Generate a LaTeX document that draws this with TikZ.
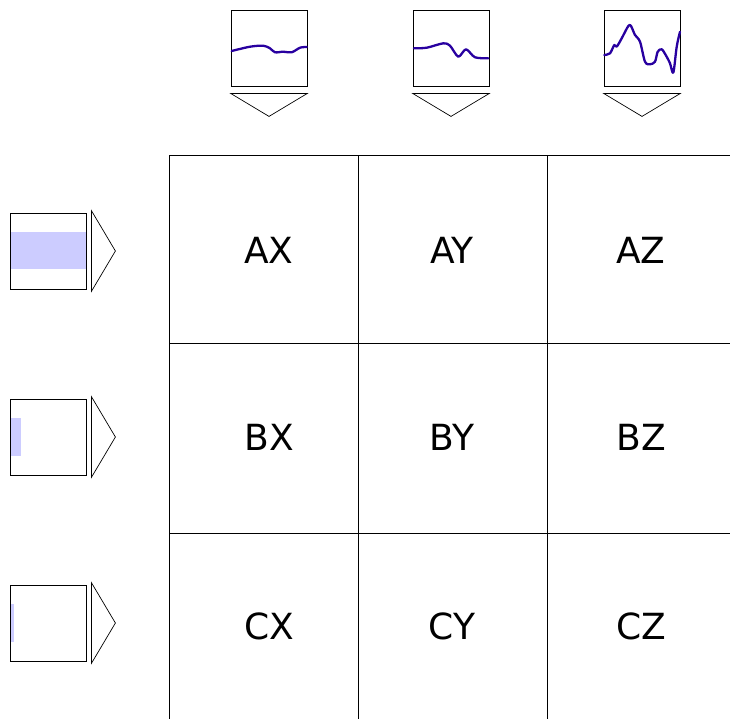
\documentclass[tikz,border=0pt]{standalone}
\usepackage{fontspec}
\setmainfont{DejaVu Sans}
\usetikzlibrary{positioning}

\begin{document}
\begin{tikzpicture}[x=1pt, y=-1pt, font=\fontsize{36}{40}\selectfont]

\definecolor{CurveLine}{RGB}{40,0,160}
\definecolor{BarFill}{RGB}{204,204,255}

\tikzset{
    plotbox/.style={draw, line width=0.8pt, minimum size=76pt, inner sep=0pt},
    arrowhead/.style={draw, line width=0.7pt},
    curve/.style={CurveLine, line width=2.3pt, line join=round, line cap=round},
    gridline/.style={line width=1pt},
}

\useasboundingbox (0,0) rectangle (730,718);

% ── Grade 3x3 (cortada pela borda) ──────────────────────────
\foreach \gx in {169,358,547}
    \draw[gridline] (\gx,155) -- (\gx,730);
\foreach \gy in {155,343,533}
    \draw[gridline] (169,\gy) -- (740,\gy);

% ── Caixas das curvas (topo) ────────────────────────────────
\node[plotbox] (plotX) at (269,48) {};
\node[plotbox] (plotY) at (451,48) {};
\node[plotbox] (plotZ) at (642,48) {};

\foreach \p in {plotX,plotY,plotZ}
    \draw[arrowhead] ([yshift=-7pt]\p.south west) -- ([yshift=-7pt]\p.south east)
        -- ([yshift=-30pt]\p.south) -- cycle;

\draw[curve] plot[smooth, tension=0.5] coordinates {
    (231.7,51) (250,46.7) (263.3,45.7) (270,48.3) (275,52.3)
    (283.3,51.7) (291.7,52.3) (300,47.7) (306.7,47)};
\draw[curve] plot[smooth, tension=0.5] coordinates {
    (414,48.3) (426.7,47.7) (443.3,43.3) (450,45.7) (458.3,56.7)
    (466,49.3) (475,57.3) (488.3,58.3)};
\draw[curve] plot[smooth, tension=0.5] coordinates {
    (604.3,55) (610,53.3) (614.3,45) (616.7,46.7) (621.7,38.3)
    (628.3,26) (631,26) (635,35) (640,41.7) (645,61.7) (650,64.3)
    (655,61.7) (657.7,51.7) (661.7,49.3) (665.7,55) (670,63.3)
    (673.3,72.7) (676.7,46.7) (680,31.7)};

% ── Barras (esquerda) ───────────────────────────────────────
\fill[BarFill] (10,232) rectangle (86,269);
\fill[BarFill] (10,418) rectangle (21,456);
\fill[BarFill] (10,604) rectangle (14,642);

\node[plotbox] (barA) at (48,251) {};
\node[plotbox] (barB) at (48,437) {};
\node[plotbox] (barC) at (48,623) {};

\foreach \b in {barA,barB,barC}
    \draw[arrowhead] ([xshift=5pt,yshift=2pt]\b.north east) -- ([xshift=5pt,yshift=-2pt]\b.south east)
        -- ([xshift=29pt]\b.east) -- cycle;

% ── Rótulos das células ─────────────────────────────────────
\foreach \row/\ry in {A/250,B/437,C/626}
    \foreach \col/\cx in {X/269,Y/452,Z/641}
        \node (cell\row\col) at (\cx,\ry) {\row\col};

\end{tikzpicture}
\end{document}
